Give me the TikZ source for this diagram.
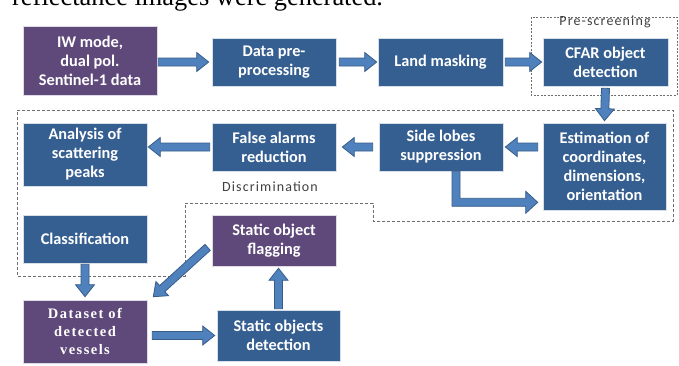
\documentclass[tikz,border=0pt]{standalone}
\usepackage{fontspec}
\setmainfont{Carlito}
\newfontfamily\serifb{Liberation Serif}
\newfontfamily\serifsp[LetterSpace=10]{Liberation Serif}
\newfontfamily\labsp[LetterSpace=8]{Carlito}
\usetikzlibrary{calc}
\definecolor{boxblue}{HTML}{365F91}
\definecolor{boxpurple}{HTML}{5F497A}
\definecolor{arrfill}{HTML}{4F81BD}
\definecolor{arrline}{HTML}{385D8A}
\definecolor{dashgray}{HTML}{6E6E6E}
\definecolor{labgray}{HTML}{404040}
\tikzset{
  box/.style={draw=white!80!boxblue, line width=0.6pt, fill=boxblue, text=white, align=center, inner sep=0pt,
    font=\fontsize{16.3}{19}\selectfont\bfseries},
  pbox/.style={box, fill=boxpurple, draw=white!80!boxpurple},
  barrow/.style={fill=arrfill, draw=arrline, line width=0.8pt, line join=miter},
  region/.style={draw=dashgray, line width=0.8pt, dash pattern=on 3pt off 2pt},
  lab/.style={text=labgray, font=\fontsize{14}{16}\selectfont\labsp, inner sep=0pt}
}
\newcommand\blockarrow[2]{%
  \path[barrow] let \p1=#1, \p2=#2, \n1={atan2(\y2-\y1,\x2-\x1)}, \n2={veclen(\x2-\x1,\y2-\y1)-12} in
    ($(\p1)+(\n1-90:4pt)$) -- ++(\n1:\n2) -- ++(\n1-90:5.5pt) -- (\p2)
    -- ($(\p2)+(\n1+180:12pt)+(\n1+90:9.5pt)$) -- ++(\n1-90:5.5pt) -- ++(\n1+180:\n2) -- cycle;}
\begin{document}
\begin{tikzpicture}[x=1pt,y=-1pt]
\useasboundingbox (0,0) rectangle (679,365);
\fill[white] (0,0) rectangle (679,365);
\begin{scope}
\clip (0,0) rectangle (679,365);
\node[anchor=base west, inner sep=0pt, font=\fontsize{26.4}{30}\selectfont\serifb] (top) at (12,5) {reflectance images were generated.};
\end{scope}

% dashed regions
\draw[region, dash pattern=on 2pt off 1.5pt, line width=0.6pt] (531,17) rectangle (677,95);
\draw[region] (17,110) -- (673,110) -- (673,221) -- (373,221) -- (373,203) -- (185,203) -- (185,276) -- (17,276) -- cycle;
\node[lab] (prelab) at (605,22) {Pre-screening};
\node[lab] (disclab) at (270,187) {Discrimination};

% boxes
\node[pbox, minimum width=134pt, minimum height=69pt] (iw) at (90,60.5) {IW mode,\\dual pol.\\Sentinel-1 data};
\node[box, minimum width=124pt, minimum height=48pt] (pre) at (274,62) {Data pre-\\processing};
\node[box, minimum width=125pt, minimum height=48pt] (land) at (440.5,62) {Land masking};
\node[box, minimum width=125pt, minimum height=48pt] (cfar) at (605.5,62) {CFAR object\\detection};
\node[box, minimum width=123pt, minimum height=87pt] (est) at (604.5,166.5) {Estimation of\\coordinates,\\dimensions,\\orientation};
\node[box, minimum width=124pt, minimum height=48pt] (side) at (441,147) {Side lobes\\suppression};
\node[box, minimum width=124pt, minimum height=48pt] (false) at (274,147) {False alarms\\reduction};
\node[box, minimum width=124pt, minimum height=63pt] (analysis) at (85,154.5) {Analysis of\\scattering\\peaks};
\node[box, minimum width=124pt, minimum height=48pt] (class) at (85,239) {Classification};
\node[pbox, minimum width=124pt, minimum height=51pt] (flag) at (274,240.5) {Static object\\flagging};
\node[pbox, minimum width=124pt, minimum height=63pt, font=\fontsize{14.5}{18}\selectfont\serifsp\bfseries] (dataset) at (85,331.5) {Dataset of\\detected\\vessels};
\node[box, minimum width=123pt, minimum height=51pt] (detect) at (278.5,335.5) {Static objects\\detection};

% arrows
\blockarrow{([xshift=1pt]iw.east |- pre.west)}{([xshift=-3pt]pre.west)}
\blockarrow{([xshift=3pt]pre.east)}{([xshift=-1pt]land.west)}
\blockarrow{([xshift=2pt]land.east)}{([xshift=-1pt]cfar.west)}
\blockarrow{([yshift=-2pt]cfar.south)}{([yshift=2pt]est.north)}
\blockarrow{([xshift=-5pt]est.west |- side.east)}{([xshift=2pt]side.east)}
\blockarrow{([xshift=-6pt]side.west)}{([xshift=6pt]false.east)}
\blockarrow{([xshift=-2pt]false.west)}{([xshift=1pt]analysis.east |- false.west)}
\blockarrow{([yshift=-1pt]class.south)}{([yshift=3pt]dataset.north)}
\blockarrow{([shift={(-4pt,19pt)}]flag.south west)}{([shift={(6pt,3pt)}]dataset.north east)}
\blockarrow{([xshift=5pt]dataset.east |- detect.west)}{([xshift=-2pt]detect.west)}
\blockarrow{([yshift=1pt]detect.north)}{([yshift=-2pt]detect.north |- flag.south)}
% bent arrow side lobes -> estimation
\path[barrow] let \p1=([xshift=15pt]side.south), \p2=([xshift=-5pt,yshift=8pt]est.south west) in
  (\x1-4pt,\y1) -- (\x1-4pt,\y2-4pt) -- (\x2-12pt,\y2-4pt) -- (\x2-12pt,\y2-11pt) -- (\p2)
  -- (\x2-12pt,\y2+11pt) -- (\x2-12pt,\y2+4pt) -- (\x1+4pt,\y2+4pt) -- (\x1+4pt,\y1) -- cycle;
\end{tikzpicture}
\end{document}
